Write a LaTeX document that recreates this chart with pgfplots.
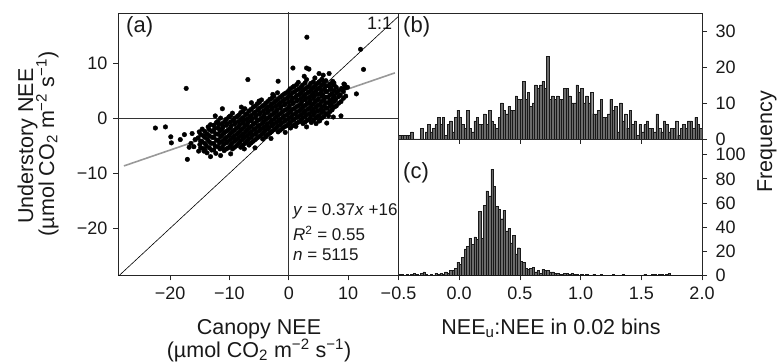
\documentclass[border=0pt]{standalone}
\usepackage{fontspec}
\setmainfont{Liberation Sans}
\usepackage{pgfplots}
\pgfplotsset{compat=1.18}
\usepackage{pgfplotstable}

\newcommand{\tfs}{\fontsize{18bp}{20bp}\selectfont}
\newcommand{\lfs}{\fontsize{21.5bp}{24bp}\selectfont}
\newcommand{\pfs}{\fontsize{22bp}{24bp}\selectfont}
\newcommand{\rfs}{\fontsize{17bp}{20bp}\selectfont}

\pgfplotstableread{
x y
3.05 14.7
12.1 12.5
12.6 8.85
-17.3 5.4
-6.9 7.0
-1.8 6.7
-22.5 -1.8
-20.8 -1.6
-19.9 -3.4
-19.8 -4.5
-17.1 -7.5
-14.3 -6.0
-5.7 -5.4
-4.4 -3.8
8.8 0.4
11.4 4.4
9.3 6.2
9.9 5.6
0.7 9.1
3.0 9.1
3.4 8.9
2.6 7.6
5.1 8.1
5.6 7.0
6.8 8.1
7.6 6.4
9.4 6.1
6.7 0.4
5.1 -0.5
-11.2 1.7
-12.4 0.4
-8.0 2.0
-6.3 2.8
-5.0 3.1
-2.7 4.3
-17.6 -3.0
-18.3 -3.9
-16.8 -5.3
-13.2 -7.0
-11.5 -6.8
-9.8 -6.5
1.2 -1.5
3.0 -1.6
4.6 -1.0
6.4 -0.9
7.5 0.2
-0.6 -2.6
-3.0 -3.7
-7.5 -5.6
-16.0 -5.2
-15.8 -3.9
-16.5 -4.6
-16.3 -2.8
-15.2 -6.0
-15.0 -4.8
-15.3 -3.6
-15.1 -2.5
-14.5 -5.5
-14.6 -4.3
-14.4 -3.2
-14.6 -2.0
-13.8 -6.3
-13.9 -5.0
-13.7 -3.9
-13.8 -2.9
-13.6 -1.6
-13.0 -5.8
-13.1 -4.6
-12.9 -3.5
-13.0 -2.4
-13.2 -1.2
-12.3 -6.4
-12.4 -5.1
-12.2 -4.0
-12.3 -2.9
-12.5 -1.9
-12.2 -0.8
-11.6 -5.6
-11.7 -4.5
-11.5 -3.4
-11.6 -2.3
-11.8 -1.2
-11.5 0.0
-10.9 -5.9
-11.0 -4.8
-10.8 -3.8
-10.9 -2.7
-11.1 -1.6
-10.8 -0.6
-10.2 -5.4
-10.3 -4.3
-10.1 -3.2
-10.2 -2.1
-10.4 -1.0
-10.1 0.2
-9.5 -5.6
-9.6 -4.6
-9.4 -3.5
-9.5 -2.5
-9.7 -1.4
-9.4 -0.4
-9.5 0.9
-8.8 -5.0
-8.9 -3.9
-8.7 -2.9
-8.8 -1.8
-9.0 -0.8
-8.7 0.3
-8.1 -5.3
-8.2 -4.2
-8.0 -3.2
-8.1 -2.2
-8.3 -1.2
-8.0 -0.2
-8.1 1.0
-7.4 -4.6
-7.5 -3.5
-7.3 -2.5
-7.4 -1.5
-7.6 -0.5
-7.3 0.6
-7.4 1.7
-6.7 -4.9
-6.8 -3.8
-6.6 -2.8
-6.7 -1.8
-6.9 -0.8
-6.6 0.2
-6.7 1.3
-6.0 -4.2
-6.1 -3.1
-5.9 -2.1
-6.0 -1.1
-6.2 -0.1
-5.9 0.9
-6.0 2.0
-5.3 -3.6
-5.4 -2.6
-5.2 -1.5
-5.3 -0.5
-5.5 0.5
-5.2 1.5
-5.3 2.6
-4.6 -3.0
-4.7 -2.0
-4.5 -1.0
-4.6 0.0
-4.8 1.0
-4.5 2.1
-4.6 3.3
-3.9 -3.4
-4.0 -2.3
-3.8 -1.3
-3.9 -0.3
-4.1 0.7
-3.8 1.7
-3.9 2.7
-3.2 -2.7
-3.3 -1.7
-3.1 -0.7
-3.2 0.3
-3.4 1.3
-3.1 2.3
-3.2 3.4
-2.5 -2.1
-2.6 -1.1
-2.4 -0.1
-2.5 0.9
-2.7 1.9
-2.4 2.9
-2.5 4.0
-1.8 -2.5
-1.9 -1.5
-1.7 -0.5
-1.8 0.5
-2.0 1.5
-1.7 2.5
-1.8 3.5
-1.9 4.6
-1.1 -1.9
-1.2 -0.9
-1.0 0.1
-1.1 1.1
-1.3 2.1
-1.0 3.1
-1.1 4.1
-0.4 -1.4
-0.5 -0.4
-0.3 0.6
-0.4 1.6
-0.6 2.6
-0.3 3.6
-0.4 4.6
0.3 -1.8
0.2 -0.8
0.4 0.2
0.3 1.2
0.1 2.2
0.4 3.2
0.3 4.2
0.2 5.3
1.0 -1.2
0.9 -0.2
1.1 0.8
1.0 1.8
0.8 2.8
1.1 3.8
1.0 4.8
0.9 5.8
1.7 -0.7
1.6 0.3
1.8 1.3
1.7 2.3
1.5 3.3
1.8 4.3
1.7 5.3
1.6 6.5
2.4 -1.0
2.3 0.0
2.5 1.0
2.4 2.0
2.2 3.0
2.5 4.0
2.4 5.0
2.3 6.0
3.1 -0.4
3.0 0.6
3.2 1.6
3.1 2.6
2.9 3.6
3.2 4.6
3.1 5.6
3.0 7.0
3.8 -0.8
3.7 0.2
3.9 1.2
3.8 2.2
3.6 3.2
3.9 4.2
3.8 5.2
3.7 6.3
4.5 0.0
4.4 1.0
4.6 2.0
4.5 3.0
4.3 4.0
4.6 5.0
4.5 6.0
4.4 7.3
5.2 -0.5
5.1 0.5
5.3 1.5
5.2 2.5
5.0 3.5
5.3 4.5
5.2 5.5
5.1 6.6
5.9 0.3
5.8 1.3
6.0 2.3
5.9 3.3
5.7 4.3
6.0 5.3
5.9 6.4
5.8 7.8
6.6 0.8
6.5 1.8
6.7 2.8
6.6 3.8
6.4 4.8
6.7 5.9
7.3 1.5
7.2 2.5
7.4 3.5
7.3 4.5
7.1 5.5
7.4 6.7
8.0 2.2
7.9 3.4
8.1 4.6
8.0 5.6
8.8 3.0
8.7 4.2
8.9 5.4
9.6 4.0
9.5 5.5
-14.85 -5.4
-14.85 -4.2
-14.85 -3.0
-14.15 -5.7
-14.15 -4.6
-14.15 -3.5
-14.15 -2.4
-13.4 -5.4
-13.4 -4.3
-13.4 -3.2
-13.4 -2.1
-12.65 -5.8
-12.65 -4.6
-12.65 -3.5
-12.65 -2.4
-12.65 -1.3
-11.95 -5.2
-11.95 -4.0
-11.95 -2.9
-11.95 -1.8
-11.95 -0.6
-11.25 -5.3
-11.25 -4.2
-11.25 -3.1
-11.25 -2.0
-11.25 -1.0
-10.55 -5.6
-10.55 -4.5
-10.55 -3.5
-10.55 -2.4
-10.55 -1.3
-10.55 -0.2
-9.85 -5.0
-9.85 -3.9
-9.85 -2.8
-9.85 -1.8
-9.85 -0.7
-9.85 0.4
-9.15 -5.3
-9.15 -4.2
-9.15 -3.2
-9.15 -2.2
-9.15 -1.1
-9.15 0.0
-8.45 -4.6
-8.45 -3.6
-8.45 -2.6
-8.45 -1.6
-8.45 -0.6
-8.45 0.5
-7.75 -4.9
-7.75 -3.9
-7.75 -2.9
-7.75 -1.9
-7.75 -0.9
-7.75 0.1
-7.75 1.2
-7.05 -4.2
-7.05 -3.2
-7.05 -2.2
-7.05 -1.2
-7.05 -0.2
-7.05 0.8
-6.35 -4.5
-6.35 -3.5
-6.35 -2.5
-6.35 -1.5
-6.35 -0.5
-6.35 0.5
-6.35 1.6
-5.65 -3.9
-5.65 -2.9
-5.65 -1.9
-5.65 -0.9
-5.65 0.1
-5.65 1.1
-5.65 2.2
-4.95 -3.3
-4.95 -2.3
-4.95 -1.3
-4.95 -0.3
-4.95 0.7
-4.95 1.8
-4.95 2.9
-4.25 -2.7
-4.25 -1.7
-4.25 -0.7
-4.25 0.3
-4.25 1.3
-4.25 2.3
-3.55 -3.0
-3.55 -2.0
-3.55 -1.0
-3.55 0.0
-3.55 1.0
-3.55 2.0
-3.55 3.0
-2.85 -2.4
-2.85 -1.4
-2.85 -0.4
-2.85 0.6
-2.85 1.6
-2.85 2.6
-2.85 3.6
-2.15 -1.8
-2.15 -0.8
-2.15 0.2
-2.15 1.2
-2.15 2.2
-2.15 3.2
-1.45 -2.2
-1.45 -1.2
-1.45 -0.2
-1.45 0.8
-1.45 1.8
-1.45 2.8
-1.45 3.8
-0.75 -1.6
-0.75 -0.6
-0.75 0.4
-0.75 1.4
-0.75 2.4
-0.75 3.4
-0.75 4.4
-0.05 -1.1
-0.05 -0.1
-0.05 0.9
-0.05 1.9
-0.05 2.9
-0.05 3.9
-0.05 4.9
0.65 -1.4
0.65 -0.4
0.65 0.6
0.65 1.6
0.65 2.6
0.65 3.6
0.65 4.6
0.65 5.6
1.35 -0.9
1.35 0.1
1.35 1.1
1.35 2.1
1.35 3.1
1.35 4.1
1.35 5.1
1.35 6.1
2.05 -0.4
2.05 0.6
2.05 1.6
2.05 2.6
2.05 3.6
2.05 4.6
2.05 5.6
2.75 -0.7
2.75 0.3
2.75 1.3
2.75 2.3
2.75 3.3
2.75 4.3
2.75 5.3
2.75 6.4
3.45 -0.2
3.45 0.8
3.45 1.8
3.45 2.8
3.45 3.8
3.45 4.8
3.45 5.8
4.15 -0.4
4.15 0.6
4.15 1.6
4.15 2.6
4.15 3.6
4.15 4.6
4.15 5.6
4.15 6.6
4.85 0.3
4.85 1.3
4.85 2.3
4.85 3.3
4.85 4.3
4.85 5.3
4.85 6.3
5.55 0.0
5.55 1.0
5.55 2.0
5.55 3.0
5.55 4.0
5.55 5.0
5.55 6.0
5.55 7.0
6.25 0.8
6.25 1.8
6.25 2.8
6.25 3.8
6.25 4.8
6.25 5.8
6.25 6.8
6.95 1.2
6.95 2.2
6.95 3.2
6.95 4.2
6.95 5.2
6.95 6.2
7.65 2.0
7.65 3.0
7.65 4.0
7.65 5.0
7.65 6.0
8.4 2.7
8.4 3.9
8.4 5.0
9.2 3.6
9.2 4.8
}\scatterdata

\pgfplotstableread{
x y
-0.50 1
-0.48 1
-0.46 1
-0.44 1
-0.42 1
-0.40 2
-0.38 0
-0.36 0
-0.34 0
-0.32 3
-0.30 0
-0.28 2
-0.26 4
-0.24 2
-0.22 3
-0.20 4
-0.18 6
-0.16 4
-0.14 6
-0.12 1
-0.10 4
-0.08 5
-0.06 2
-0.04 6
-0.02 8
0.00 6
0.02 4
0.04 3
0.06 8
0.08 3
0.10 2
0.12 5
0.14 6
0.16 4
0.18 4
0.20 7
0.22 4
0.24 8
0.26 5
0.28 4
0.30 3
0.32 6
0.34 10
0.36 8
0.38 7
0.40 9
0.42 8
0.44 8
0.46 12
0.48 11
0.50 11
0.52 16
0.54 11
0.56 13
0.58 9
0.60 10
0.62 15
0.64 14
0.66 15
0.68 16
0.70 14
0.72 23
0.74 11
0.76 12
0.78 11
0.80 12
0.82 11
0.84 11
0.86 14
0.88 14
0.90 12
0.92 10
0.94 10
0.96 15
0.98 13
1.00 14
1.02 10
1.04 12
1.06 10
1.08 13
1.10 7
1.12 7
1.14 8
1.16 11
1.18 6
1.20 6
1.22 7
1.24 11
1.26 8
1.28 9
1.30 2
1.32 10
1.34 5
1.36 7
1.38 3
1.40 8
1.42 4
1.44 5
1.46 1
1.48 4
1.50 2
1.52 4
1.54 5
1.56 3
1.58 3
1.60 2
1.62 7
1.64 3
1.66 2
1.68 5
1.70 4
1.72 2
1.74 3
1.76 3
1.78 5
1.80 1
1.82 3
1.84 4
1.86 3
1.88 5
1.90 5
1.92 3
1.94 6
1.96 4
1.98 3
2.00 0
}\bdata

\pgfplotstableread{
x y
-0.50 1
-0.48 1
-0.46 0
-0.44 1
-0.42 0
-0.40 1
-0.38 2
-0.36 1
-0.34 0
-0.32 2
-0.30 3
-0.28 1
-0.26 0
-0.24 1
-0.22 0
-0.20 2
-0.18 1
-0.16 2
-0.14 1
-0.12 3
-0.10 2
-0.08 4
-0.06 4
-0.04 6
-0.02 11
0.00 9
0.02 15
0.04 22
0.06 24
0.08 31
0.10 26
0.12 32
0.14 30
0.16 53
0.18 31
0.20 58
0.22 70
0.24 66
0.26 88
0.28 74
0.30 57
0.32 55
0.34 47
0.36 54
0.38 37
0.40 39
0.42 27
0.44 33
0.46 18
0.48 23
0.50 12
0.52 11
0.54 6
0.56 5
0.58 6
0.60 7
0.62 3
0.64 4
0.66 2
0.68 5
0.70 4
0.72 4
0.74 3
0.76 3
0.78 2
0.80 2
0.82 1
0.84 1
0.86 2
0.88 2
0.90 1
0.92 2
0.94 1
0.96 1
0.98 0
1.00 1
1.02 0
1.04 1
1.06 0
1.08 0
1.10 1
1.12 0
1.14 0
1.16 1
1.18 0
1.20 0
1.22 0
1.24 0
1.26 1
1.28 0
1.30 0
1.32 0
1.34 1
1.36 0
1.38 0
1.40 0
1.42 0
1.44 0
1.46 0
1.48 0
1.50 0
1.52 1
1.54 0
1.56 0
1.58 1
1.60 1
1.62 0
1.64 1
1.66 1
1.68 0
1.70 1
1.72 2
1.74 0
1.76 0
1.78 0
1.80 0
1.82 0
1.84 0
1.86 0
1.88 0
1.90 0
1.92 0
1.94 0
1.96 0
1.98 0
2.00 0
}\cdata

\pgfplotsset{
  myax/.style={
    scale only axis,
    anchor=south west,
    axis line style={black!85, line width=0.8bp},
    tick align=outside,
    major tick length=5bp,
    tick style={black!85, line width=0.8bp},
    ticklabel style={font=\tfs, text=black!90},
    xticklabel style={yshift=-3bp},
  },
  hist/.style={ybar interval, fill=black!58, draw=black!90, line width=0.35bp},
}

\begin{document}
\begin{tikzpicture}[x=1bp,y=1bp]
\useasboundingbox (0bp,0bp) rectangle (779bp,363bp);

% ---------- panel (a)
\begin{axis}[myax, at={(118bp,87.5bp)}, width=280.5bp, height=262.5bp,
  xmin=-28.8, xmax=18.5, ymin=-28.6, ymax=19.1,
  xtick={-20,-10,0,10}, xticklabels={−20,−10,0,10},
  ytick={-20,-10,0,10}, yticklabels={−20,−10,0,10},
  yticklabel style={xshift=-2bp},
  xtick pos=bottom, ytick pos=left, clip=true]
\addplot[black!80, line width=0.6bp] coordinates {(-30,0) (20,0)};
\addplot[black!80, line width=0.6bp] coordinates {(0,-30) (0,20)};
\addplot[black, line width=0.6bp] coordinates {(-30,-30) (20,20)};
\addplot[only marks, mark=*, mark size=2.3bp, black, mark options={draw=black, fill=black}] table {\scatterdata};
\addplot[black!40, line width=1.6bp] coordinates {(-27.8,-8.69) (17.9,8.22)};
\end{axis}

% ---------- panel (b)
\begin{axis}[myax, at={(398.5bp,224bp)}, width=303.5bp, height=126bp,
  xmin=-0.5, xmax=2.0, ymin=0, ymax=35,
  xtick={-0.5,0,0.5,1,1.5,2}, xticklabels={},
  ytick={0,10,20,30}, yticklabels={0,10,20,30},
  yticklabel style={xshift=5bp, inner ysep=0bp},
  xtick pos=bottom, ytick pos=right, yticklabel pos=right]
\addplot[hist] table {\bdata};
\end{axis}

% ---------- panel (c)
\begin{axis}[myax, at={(398.5bp,87.5bp)}, width=303.5bp, height=136.5bp,
  xmin=-0.5, xmax=2.0, ymin=0, ymax=113,
  xtick={-0.5,0,0.5,1,1.5,2}, xticklabels={−0.5,0.0,0.5,1.0,1.5,2.0},
  ytick={0,20,40,60,80,100}, yticklabels={0,20,40,60,80,100},
  yticklabel style={xshift=5bp, inner ysep=0bp},
  xtick pos=bottom, ytick pos=right, yticklabel pos=right]
\addplot[hist] table {\cdata};
\end{axis}

% ---------- texts
\node[anchor=base west, inner sep=0, font=\pfs, text=black!90] at (126bp,330bp) {(a)};
\node[anchor=base west, inner sep=0, font=\pfs, text=black!90] at (403bp,330bp) {(b)};
\node[anchor=base west, inner sep=0, font=\pfs, text=black!90] at (403bp,184bp) {(c)};
\node[anchor=base west, inner sep=0, font=\fontsize{18bp}{20bp}\selectfont, text=black!90] at (367bp,333bp) {1:1};

\node[anchor=base west, inner sep=0, font=\rfs, text=black!90] at (293bp,147.5bp) {\textit{y} = 0.37\textit{x} +16};
\node[anchor=base west, inner sep=0, font=\rfs, text=black!90] at (293bp,122bp) {\textit{R}\textsuperscript{2} = 0.55};
\node[anchor=base west, inner sep=0, font=\rfs, text=black!90] at (293bp,102.5bp) {\textit{n} = 5115};

\node[anchor=base, inner sep=0, font=\lfs, text=black!90] at (259bp,29bp) {Canopy NEE};
\node[anchor=base, inner sep=0, font=\lfs, text=black!90] at (259bp,6bp) {(µmol CO\textsubscript{2} m\textsuperscript{−2} s\textsuperscript{−1})};

\node[rotate=90, anchor=base, inner sep=0, font=\lfs, text=black!90] at (33bp,217bp) {Understory NEE};
\node[rotate=90, anchor=base, inner sep=0, font=\lfs, text=black!90] at (54bp,219bp) {(µmol CO\textsubscript{2} m\textsuperscript{−2} s\textsuperscript{−1})};

\node[anchor=base, inner sep=0, font=\lfs, text=black!90] at (551bp,29bp) {NEE\textsubscript{u}:NEE in 0.02 bins};
\node[rotate=90, anchor=base, inner sep=0, font=\lfs, text=black!90] at (772bp,221bp) {Frequency};
\end{tikzpicture}
\end{document}
